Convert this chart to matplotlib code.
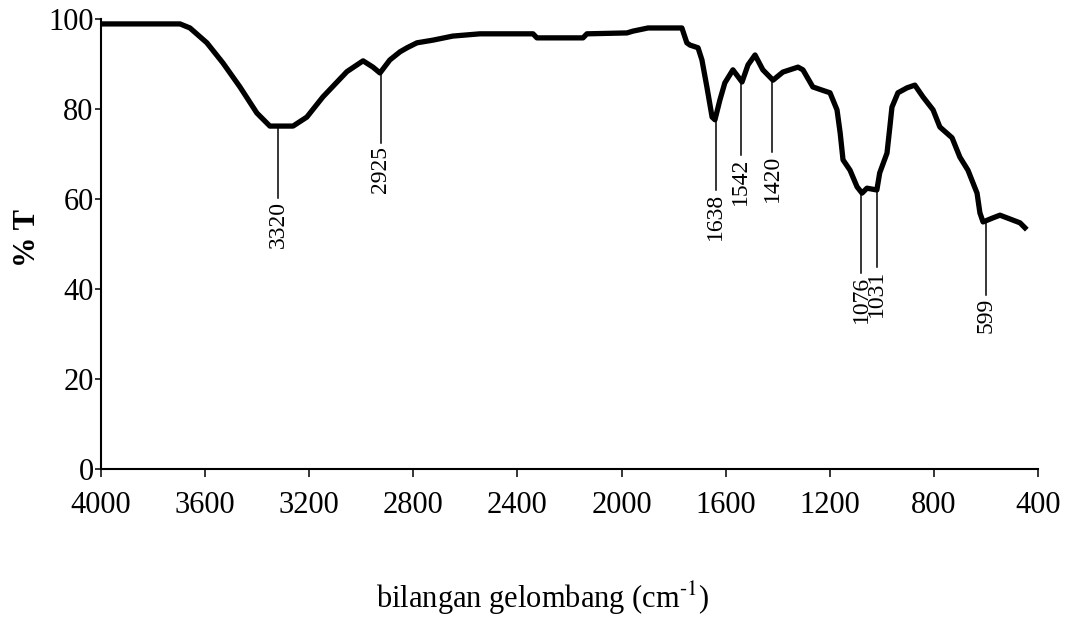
import matplotlib.pyplot as plt
import matplotlib.transforms as mtransforms
import numpy as np

plt.rcParams['font.family'] = ['Liberation Serif', 'DejaVu Serif']
plt.rcParams['mathtext.fontset'] = 'stix'

# spektrum FTIR
bilangan = [4000, 3696, 3658, 3593, 3531, 3466, 3401, 3351, 3262, 3209,
            3147, 3055, 2993, 2955, 2928, 2890, 2851, 2824, 2786, 2724,
            2648, 2544, 2340, 2325, 2148, 2133, 1979, 1956, 1898, 1768,
            1749, 1737, 1706, 1691, 1672, 1652, 1641, 1622, 1603, 1572,
            1537, 1514, 1487, 1457, 1418, 1380, 1322, 1303, 1265, 1230,
            1199, 1172, 1160, 1149, 1122, 1095, 1076, 1057, 1019, 1008,
            980, 969, 961, 938, 903, 873, 842, 803, 777, 730,
            700, 669, 634, 623, 611, 573, 546, 496, 469, 450]
transmitan = [98.9, 98.9, 98.0, 94.7, 90.2, 84.9, 79.1, 76.2, 76.2, 78.2,
              82.7, 88.3, 90.7, 89.3, 88.0, 90.9, 92.7, 93.6, 94.7, 95.3,
              96.2, 96.7, 96.7, 95.8, 95.8, 96.7, 96.9, 97.3, 98.0, 98.0,
              94.7, 94.2, 93.6, 90.9, 84.9, 78.2, 77.6, 82.0, 85.8, 88.7,
              86.0, 89.8, 92.0, 88.7, 86.4, 88.2, 89.3, 88.7, 84.9, 84.2,
              83.6, 79.8, 74.7, 68.7, 66.4, 62.7, 61.3, 62.4, 62.0, 65.8,
              70.2, 76.0, 80.4, 83.6, 84.7, 85.3, 82.7, 79.8, 76.0, 73.6,
              69.3, 66.4, 61.3, 56.9, 54.9, 55.8, 56.4, 55.3, 54.7, 53.6]

puncak = [3320, 2925, 1638, 1542, 1420, 1076, 1031, 599]
ujung_garis = [60.2, 72.4, 62.0, 69.8, 70.4, 43.6, 44.9, 38.7]
geser_px = [0, 0, 0, 0, 0, -1, 3, 0]   # supaya 1076 / 1031 tidak bertumpuk

fig = plt.figure(figsize=(10.66, 6.18), dpi=100)
ax = fig.add_axes([0.0947, 0.2411, 0.879, 0.7282])

ax.plot(bilangan, transmitan, color='black', lw=3.8, solid_joinstyle='round')

# garis penanda puncak
x_rev = bilangan[::-1]
y_rev = transmitan[::-1]
for p, yb, dx in zip(puncak, ujung_garis, geser_px):
    yt = np.interp(p, x_rev, y_rev)
    tr = mtransforms.offset_copy(ax.transData, fig=fig, x=dx * 0.72, y=0,
                                 units='points')
    ax.plot([p, p], [yt, yb], color='black', lw=1.1, transform=tr)
    ax.text(p, yb - 0.6, str(p), rotation=90, ha='center', va='top',
            fontsize=17, transform=tr)

ax.set_xlim(4000, 400)
ax.set_ylim(0, 100)
ax.set_xticks(range(4000, 399, -400))
ax.set_yticks(range(0, 101, 20))
ax.tick_params(axis='x', direction='out', length=5.8, width=1.1,
               labelsize=22, pad=10)
ax.tick_params(axis='y', direction='out', length=4.3, width=1.1,
               labelsize=22, pad=1)
for s in ['top', 'right']:
    ax.spines[s].set_visible(False)
for s in ['left', 'bottom']:
    ax.spines[s].set_linewidth(1.5)

fig.text(0.026, 0.615, '% T', rotation=90, ha='center', va='center',
         fontsize=22, fontweight='bold')
fig.text(0.509, 0.032, 'bilangan gelombang (cm$^{\\mathrm{\u2010}1}$)',
         ha='center', va='center', fontsize=22)

plt.savefig('out.png', dpi=100)
